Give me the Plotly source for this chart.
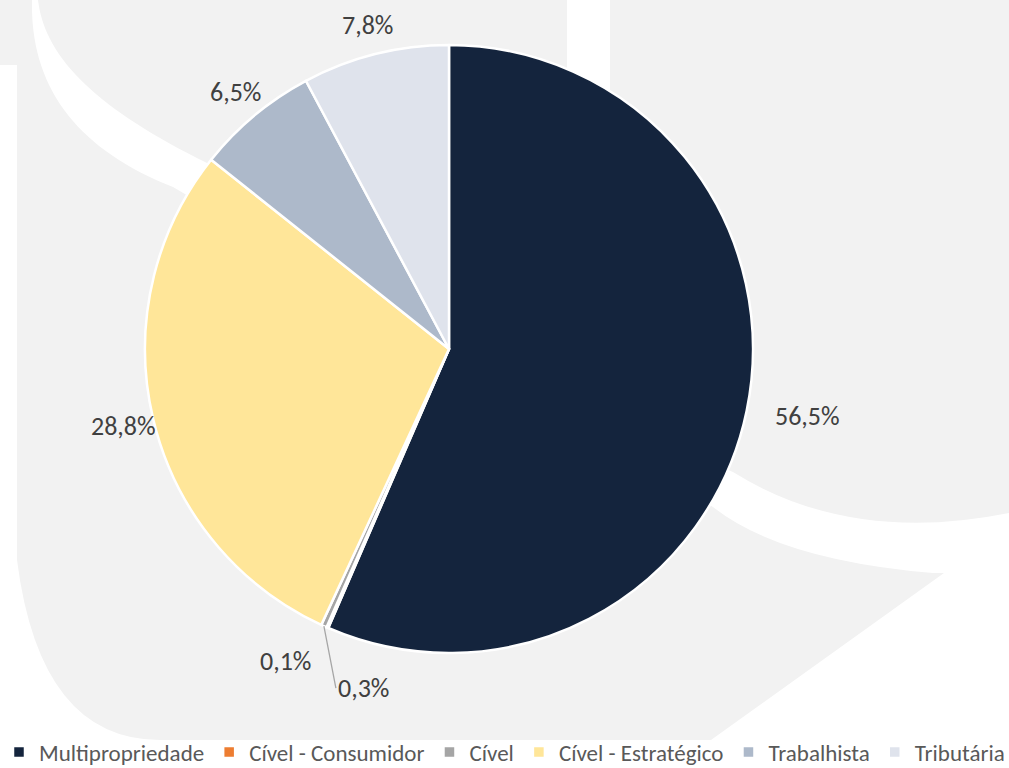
import math
import plotly.graph_objects as go

# ---- data ----
categories = ["Multipropriedade", "Cível - Consumidor", "Cível",
              "Cível - Estratégico", "Trabalhista", "Tributária"]
values = [56.5, 0.1, 0.3, 28.8, 6.5, 7.8]
colors = ["#14243D", "#ED7D31", "#A5A5A5", "#FFE699", "#ADB9CA", "#DFE3EC"]

# ---- layout constants (pixels) ----
W, H = 1009, 768
CX, CY, R = 449, 349, 304
FONT = "Calibri, Carlito, Lato, sans-serif"
BG_GRAY = "#F2F2F2"


def px(x, y):
    return x / W, 1 - y / H


def path(cmds):
    out = []
    for c in cmds:
        op, nums = c[0], c[1:]
        pts = []
        for i in range(0, len(nums), 2):
            X, Y = px(nums[i], nums[i + 1])
            pts.append(f"{X:.5f},{Y:.5f}")
        out.append(op + " " + " ".join(pts))
    return " ".join(out) + " Z"


bg_paths = [
    path([("M", 0, 0), ("L", 32, 0), ("C", 30, 90, 80, 150, 173, 187), ("L", 449, 349),
          ("L", 713, 507), ("Q", 780, 560, 933, 573), ("L", 944, 573),
          ("L", 711, 740), ("L", 160, 740), ("Q", 40, 740, 17, 560),
          ("L", 17, 65), ("L", 0, 65)]),
    path([("M", 38, 0), ("L", 567, 0), ("L", 567, 349), ("L", 449, 349),
          ("L", 207, 163), ("C", 100, 110, 45, 60, 38, 0)]),
    path([("M", 610, 0), ("L", 1009, 0), ("L", 1009, 513),
          ("Q", 850, 545, 733, 472), ("L", 449, 349), ("L", 610, 100)]),
]
shapes = [dict(type="path", path=p, xref="paper", yref="paper",
               fillcolor=BG_GRAY, line=dict(width=0), layer="below")
          for p in bg_paths]

x0, y1 = px(CX - R, CY - R)
x1, y0 = px(CX + R, CY + R)

fig = go.Figure(go.Pie(
    labels=categories, values=values, sort=False, direction="clockwise",
    rotation=0, textinfo="none", hoverinfo="label+percent",
    marker=dict(colors=colors, line=dict(color="white", width=2.5)),
    domain=dict(x=[x0, x1], y=[y0, y1]),
))

# ---- data labels, placed from the values ----
total = sum(values)
annotations = []
cum = 0.0
small_seen = 0
for cat, v in zip(categories, values):
    theta = math.radians(360 * (cum + v / 2) / total)
    cum += v
    s, c = math.sin(theta), math.cos(theta)
    txt = f"{v:.1f}".replace(".", ",") + "%"
    font = dict(family=FONT, size=26, color="#404040")
    if v < 1:
        small_seen += 1
        if small_seen == 1:
            X, Y = px(CX + 1.1 * R * s, CY - 1.1 * R * c)
            annotations.append(dict(x=X, y=Y, xref="paper", yref="paper", text=txt,
                                    showarrow=False, font=font, xanchor="center",
                                    yanchor="middle", xshift=-30, yshift=-6))
        else:
            X, Y = px(CX + R * s, CY - R * c)
            annotations.append(dict(x=X, y=Y, xref="paper", yref="paper", text=txt,
                                    showarrow=True, arrowhead=0, arrowwidth=1.3,
                                    arrowcolor="#A6A6A6", ax=12, ay=62,
                                    xanchor="left", yanchor="middle", font=font))
        continue
    X, Y = px(CX + 1.1 * R * s, CY - 1.1 * R * c)
    xanchor = "center"
    if s > 0.5:
        X, Y = px(CX + 1.089 * R * s, CY - 1.089 * R * c)
        xanchor = "left"
    annotations.append(dict(x=X, y=Y, xref="paper", yref="paper", text=txt,
                            showarrow=False, font=font, xanchor=xanchor,
                            yanchor="middle"))

fig.update_layout(
    width=W, height=H,
    margin=dict(l=0, r=0, t=0, b=0, autoexpand=False),
    paper_bgcolor="white", plot_bgcolor="white",
    shapes=shapes, annotations=annotations,
    showlegend=True,
    legend=dict(orientation="h", x=0.5, xanchor="center", y=1 - 752 / H,
                yanchor="middle", font=dict(family=FONT, size=23, color="#595959"),
                bgcolor="rgba(0,0,0,0)", itemwidth=30, traceorder="normal"),
)

fig.write_html("out.html", config={"displayModeBar": False},
               post_script="document.body.style.margin='0';")
